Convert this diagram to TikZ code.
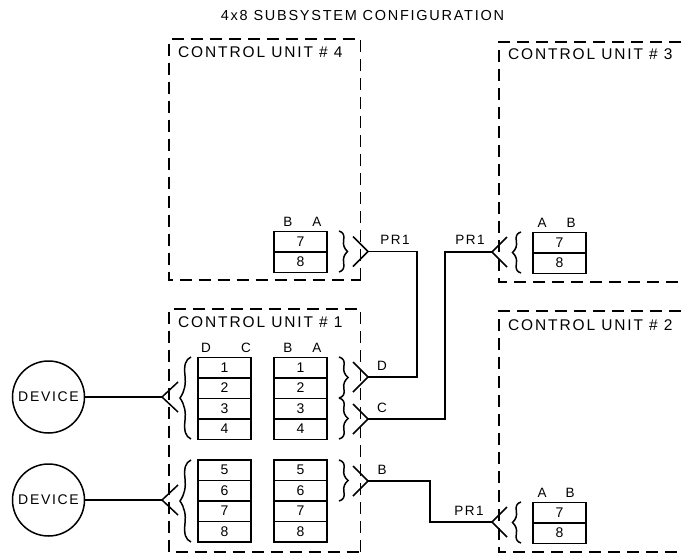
\documentclass[tikz,border=0pt]{standalone}
\usepackage{fontspec}
\setmainfont[LetterSpace=12]{Liberation Sans}
\usetikzlibrary{calc}
\newcommand{\wavyb}[5]{% x y width height options
  \draw[wire,#5,shift={(#1,#2)},xscale=#3,yscale=#4]
    (0,0) .. controls (.5,.03) and (.65,.1) .. (.55,.22)
    .. controls (.45,.34) and (.6,.42) .. (1,.5)
    .. controls (.6,.58) and (.45,.66) .. (.55,.78)
    .. controls (.65,.9) and (.5,.97) .. (0,1);}
\newcommand{\chev}[2]{% tip name, dx
  \draw[wire] ($(#1)+(#2,-15)$) -- (#1) -- ($(#1)+(#2,15)$);}
\tikzset{
  wire/.style={line width=1.5pt,black},
  unitbox/.style={line width=1.5pt,dash pattern=on 12pt off 7pt,black},
  cell/.style={draw,line width=1.5pt,minimum width=53pt,minimum height=20.5pt,inner sep=0pt,font=\fontsize{14}{14}\selectfont},
  tag/.style={inner sep=0pt,font=\fontsize{13.5}{14}\selectfont},
  unitlabel/.style={inner sep=0pt,anchor=west,font=\fontsize{15.5}{16}\selectfont},
  devicenode/.style={draw,circle,line width=1.5pt,minimum size=72pt,inner sep=0pt,font=\fontsize{14}{15}\selectfont},
}
\begin{document}
\begin{tikzpicture}[x=1pt,y=-1pt]
\useasboundingbox (0,0) rectangle (681,555);
\node[inner sep=0pt,font=\fontsize{14.5}{15}\selectfont] (title) at (362.5,16) {4x8 SUBSYSTEM CONFIGURATION};
% control units
\draw[unitbox] (360.5,280) -- (360.5,39) -- (169,39) -- (169,280) -- cycle;
\draw[unitbox] (360.5,552) -- (360.5,309) -- (169,309) -- (169,552) -- cycle;
\draw[unitbox] (681,42) -- (499,42) -- (499,282) -- (681,282);
\draw[unitbox] (681,311) -- (499,311) -- (499,552) -- (681,552);
\node[unitlabel] (u4) at (178,52) {CONTROL UNIT \# 4};
\node[unitlabel] (u1) at (178,322) {CONTROL UNIT \# 1};
\node[unitlabel] (u3) at (508,54) {CONTROL UNIT \# 3};
\node[unitlabel] (u2) at (508,325) {CONTROL UNIT \# 2};
% cells
\foreach \n/\x/\y/\t in {a7/300.5/241.5/7,a8/300.5/262/8,
   b7/559.5/242.5/7,b8/559.5/263/8,
   c7/559.5/512.5/7,c8/559.5/533/8,
   l1/224.5/367.5/1,l2/224.5/388/2,l3/224.5/408.5/3,l4/224.5/429/4,
   l5/224.5/470/5,l6/224.5/490.5/6,l7/224.5/511/7,l8/224.5/531.5/8,
   r1/300.5/367.5/1,r2/300.5/388/2,r3/300.5/408.5/3,r4/300.5/429/4,
   r5/300.5/470/5,r6/300.5/490.5/6,r7/300.5/511/7,r8/300.5/531.5/8}
  \node[cell] (\n) at (\x,\y) {\t};
% port letters
\node[tag] (t1) at (288,222) {B};
\node[tag] (t2) at (317,222) {A};
\node[tag] (t3) at (542,223) {A};
\node[tag] (t4) at (571,223) {B};
\node[tag] (t5) at (542,493) {A};
\node[tag] (t6) at (570,493) {B};
\node[tag] (t7) at (206,348) {D};
\node[tag] (t8) at (246,348) {C};
\node[tag] (t9) at (288,348) {B};
\node[tag] (t10) at (317,348) {A};
% braces
\wavyb{339}{231}{8.5}{41}{}
\wavyb{339}{357}{9}{41}{}
\wavyb{339}{398}{9}{41}{}
\wavyb{339}{460}{9}{41}{}
\wavyb{521}{232}{-8.5}{41}{}
\wavyb{521}{502}{-8.5}{41}{}
\wavyb{191}{357}{-11}{82}{}
\wavyb{191}{460}{-11}{82}{}
% connector tips
\coordinate (ta) at (368,251.5);
\coordinate (tb) at (492,252);
\coordinate (tc) at (492,522);
\coordinate (td) at (368,377);
\coordinate (te) at (368,419);
\coordinate (tf) at (368,481);
\coordinate (tg) at (162,397);
\coordinate (th) at (162,500);
\chev{ta}{-15}
\chev{td}{-15}
\chev{te}{-15}
\chev{tf}{-15}
\chev{tb}{15}
\chev{tc}{15}
\chev{tg}{16}
\chev{th}{16}
% devices
\node[devicenode] (dev1) at (48.5,397) {DEVICE};
\node[devicenode] (dev2) at (48.5,500) {DEVICE};
% connectors
\draw[wire] (dev1.east) -- (tg);
\draw[wire] (dev2.east) -- (th);
\coordinate (ja) at (417,251.5);
\coordinate (jb) at (417,377);
\coordinate (jc) at (445,252);
\coordinate (jd) at (445,419);
\coordinate (je) at (430,481);
\coordinate (jf) at (430,522);
\draw[wire] (ta) -- (ja) -- (jb) -- (td);
\draw[wire] (tb) -- (jc) -- (jd) -- (te);
\draw[wire] (tf) -- (je) -- (jf) -- (tc);
% wire labels
\node[tag] (p1) at (395,240) {PR1};
\node[tag] (p2) at (470,240) {PR1};
\node[tag] (p3) at (469,511) {PR1};
\node[tag] (ld) at (382,366) {D};
\node[tag] (lc) at (382,408) {C};
\node[tag] (lb) at (382,470) {B};
\end{tikzpicture}
\end{document}
